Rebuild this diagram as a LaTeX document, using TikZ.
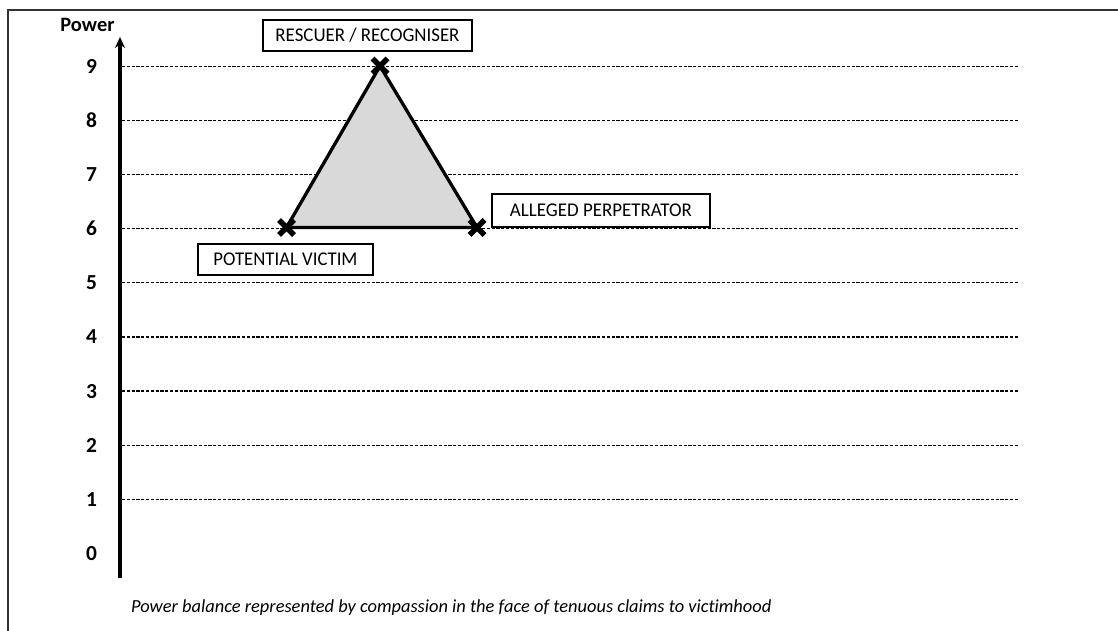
\documentclass[tikz,border=0pt]{standalone}
\usepackage{fontspec}
\setmainfont{Carlito}[Ligatures=NoCommon]
\usetikzlibrary{arrows.meta}
\definecolor{tri}{HTML}{D9D9D9}
\definecolor{frame}{HTML}{333333}
% box captions: fixed printed width, natural height
\newcommand{\boxtext}[2]{\resizebox{#1}{\height}{#2}}
\tikzset{
  grid/.style={dashed, dash pattern=on 3.2bp off 1.6bp, line width=1.2bp},
  axisline/.style={line width=3.5bp, -{Stealth[length=11bp,width=10bp]}},
  edge/.style={line width=3.3bp, line join=round},
  xmark/.style={line width=5.4bp, line cap=butt},
  lab/.style={draw, line width=1.4bp, fill=white, inner sep=0pt, font=\fontsize{19.5}{21}\selectfont},
  num/.style={font=\bfseries\fontsize{21.5}{23}\selectfont, inner sep=0pt},
}
\begin{document}
\begin{tikzpicture}[x=1bp, y=-1bp]
\useasboundingbox (0,0) rectangle (1118,631);
% outer frame (top and left edges)
\draw[frame, line width=1.6bp] (8,631) -- (8,10) -- (1118,10);

% axis
\coordinate (ax0) at (120,578);
\coordinate (ax1) at (120,37);
\draw[axisline] (ax0) -- (ax1);
\node[font=\bfseries\fontsize{20.5}{22}\selectfont, inner sep=0pt, anchor=base] (power) at (87.5,31.5) {Power};

% levels
\foreach \i in {0,...,9} {
  \pgfmathsetmacro{\yy}{553.5-54.15*\i}
  \node[num] (n\i) at (91.5,\yy) {\i};
}
\foreach \i in {1,...,9} {
  \pgfmathsetmacro{\yy}{553.5-54.15*\i}
  \coordinate (gl\i) at (122,\yy);
  \coordinate (gr\i) at (1018,\yy);
  \draw[grid] (gl\i) -- (gr\i);
}

% triangle
\coordinate (pv) at (286.5,227.5);
\coordinate (rr) at (380,66);
\coordinate (ap) at (477,227.5);
\filldraw[edge, fill=tri] (pv) -- (rr) -- (ap) -- cycle;
\foreach \c in {pv,rr,ap} {
  \draw[xmark] ([shift={(-7.5,-7.5)}]\c) -- ([shift={(7.5,7.5)}]\c);
  \draw[xmark] ([shift={(-7.5,7.5)}]\c) -- ([shift={(7.5,-7.5)}]\c);
}

% role labels
\node[lab, minimum width=209bp, minimum height=31bp] (rescuer) at (367.5,35.5) {\boxtext{184bp}{RESCUER / RECOGNISER}};
\node[lab, minimum width=175bp, minimum height=31bp] (victim) at (285.5,259.5) {\boxtext{144bp}{POTENTIAL VICTIM}};
\node[lab, minimum width=218bp, minimum height=33bp] (perp) at (601,210.5) {\boxtext{182bp}{ALLEGED PERPETRATOR}};

% caption
\node[anchor=base west, inner sep=0pt, font=\itshape\fontsize{18.5}{20}\selectfont] (cap) at (131,612) {Power balance represented by compassion in the face of tenuous claims to victimhood};
\end{tikzpicture}
\end{document}
